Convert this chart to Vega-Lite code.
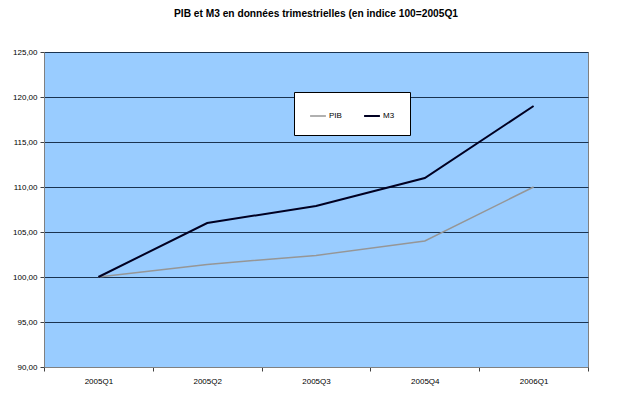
{
  "$schema": "https://vega.github.io/schema/vega-lite/v6.json",
  "width": 544,
  "height": 315,
  "autosize": {"type": "none"},
  "padding": {"left": 44, "top": 52, "right": 52, "bottom": 31},
  "background": "white",
  "title": {
    "text": "PIB et M3 en données trimestrielles (en indice 100=2005Q1",
    "font": "Liberation Sans",
    "fontSize": 10.2,
    "fontWeight": "bold",
    "color": "black",
    "anchor": "middle",
    "offset": 29
  },
  "config": {
    "view": {"fill": "#99ccff", "stroke": "#808080", "strokeWidth": 1},
    "axis": {
      "labelFont": "Liberation Sans",
      "labelFontSize": 8,
      "labelColor": "black",
      "domainColor": "#808080",
      "tickColor": "#404040",
      "tickSize": 4,
      "title": null
    },
    "legend": {
      "labelFont": "Liberation Sans",
      "labelFontSize": 8,
      "labelColor": "black"
    }
  },
  "data": {
    "values": [
      {"quarter": "2005Q1", "series": "PIB", "value": 100},
      {"quarter": "2005Q2", "series": "PIB", "value": 101.4},
      {"quarter": "2005Q3", "series": "PIB", "value": 102.4},
      {"quarter": "2005Q4", "series": "PIB", "value": 104},
      {"quarter": "2006Q1", "series": "PIB", "value": 110},
      {"quarter": "2005Q1", "series": "M3", "value": 100},
      {"quarter": "2005Q2", "series": "M3", "value": 106},
      {"quarter": "2005Q3", "series": "M3", "value": 107.9},
      {"quarter": "2005Q4", "series": "M3", "value": 111},
      {"quarter": "2006Q1", "series": "M3", "value": 119}
    ]
  },
  "mark": {"type": "line", "strokeJoin": "miter"},
  "encoding": {
    "x": {
      "field": "quarter",
      "type": "ordinal",
      "scale": {"type": "band", "paddingInner": 0, "paddingOuter": 0},
      "axis": {"labelAngle": 0, "tickBand": "extent", "grid": false, "labelPadding": 6}
    },
    "y": {
      "field": "value",
      "type": "quantitative",
      "scale": {"domain": [90, 125], "nice": false, "zero": false},
      "axis": {
        "values": [90, 95, 100, 105, 110, 115, 120, 125],
        "labelExpr": "replace(format(datum.value, '.2f'), '.', ',')",
        "grid": true,
        "gridColor": "#1a3350",
        "gridWidth": 1,
        "labelPadding": 3
      }
    },
    "color": {
      "field": "series",
      "type": "nominal",
      "scale": {"domain": ["PIB", "M3"], "range": ["#969696", "#000022"]},
      "legend": {
        "title": null,
        "orient": "none",
        "legendX": 250,
        "legendY": 40,
        "direction": "horizontal",
        "symbolType": "stroke",
        "symbolSize": 250,
        "symbolStrokeWidth": 1.5,
        "columnPadding": 18,
        "labelOffset": 2,
        "padding": 15,
        "fillColor": "white",
        "strokeColor": "black"
      }
    },
    "strokeWidth": {
      "field": "series",
      "type": "nominal",
      "scale": {"domain": ["PIB", "M3"], "range": [1.5, 2]},
      "legend": null
    }
  }
}
